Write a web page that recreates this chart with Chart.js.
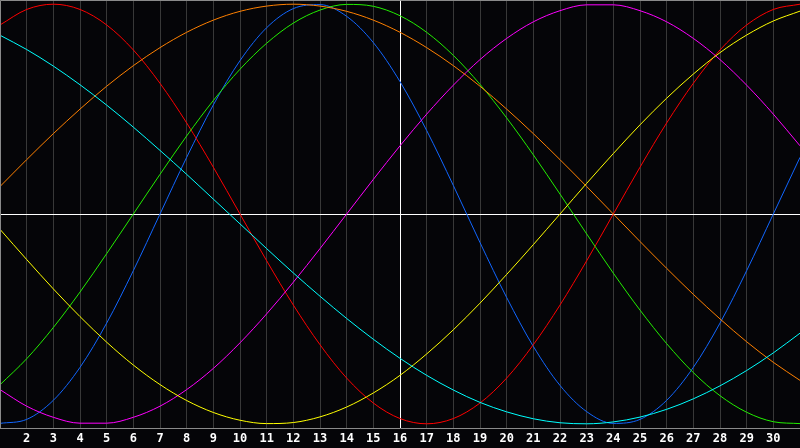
<!DOCTYPE html>
<html>
<head>
<meta charset="utf-8">
<script src="https://cdn.jsdelivr.net/npm/chart.js@4"></script>
<style>
  html, body { margin: 0; padding: 0; background: #050508; }
  #wrap { width: 800px; height: 448px; }
</style>
</head>
<body>
<div id="wrap"><canvas id="bio"></canvas></div>
<script>
// dias del mes
var dias = [];
for (var d = 1; d <= 31; d++) dias.push(d);

// valores (-1 .. 1)
var fisico = [-0.998,-0.979,-0.888,-0.731,-0.520,-0.270,0,0.270,0.520,0.731,0.888,0.979,0.998,0.942,0.817,0.631,0.398,0.136,-0.136,-0.398,-0.631,-0.817,-0.942,-0.998,-0.979,-0.888,-0.731,-0.520,-0.270,0,0.270];
var emocional = [0.901,0.975,1.000,0.975,0.901,0.782,0.623,0.434,0.223,0,-0.223,-0.434,-0.623,-0.782,-0.901,-0.975,-1.000,-0.975,-0.901,-0.782,-0.623,-0.434,-0.223,0,0.223,0.434,0.623,0.782,0.901,0.975,1.000];
var intelectual = [-0.814,-0.690,-0.541,-0.372,-0.189,0,0.189,0.372,0.541,0.690,0.814,0.910,0.972,0.999,0.990,0.945,0.866,0.756,0.618,0.458,0.282,0.095,-0.095,-0.282,-0.458,-0.618,-0.756,-0.866,-0.945,-0.990,-0.999];
var intuitivo = [-0.837,-0.916,-0.969,-0.997,-0.997,-0.969,-0.916,-0.837,-0.736,-0.614,-0.476,-0.325,-0.165,0,0.165,0.325,0.476,0.614,0.736,0.837,0.916,0.969,0.997,0.997,0.969,0.916,0.837,0.736,0.614,0.476,0.325];
var estetico = [-0.073,-0.217,-0.357,-0.489,-0.611,-0.720,-0.813,-0.889,-0.946,-0.983,-0.999,-0.994,-0.967,-0.920,-0.853,-0.769,-0.667,-0.552,-0.425,-0.288,-0.146,0,0.146,0.288,0.425,0.552,0.667,0.769,0.853,0.920,0.967];
var conciencia = [0.131,0.259,0.383,0.500,0.609,0.707,0.793,0.866,0.924,0.966,0.991,1.000,0.991,0.966,0.924,0.866,0.793,0.707,0.609,0.500,0.383,0.259,0.131,0,-0.131,-0.259,-0.383,-0.500,-0.609,-0.707,-0.793];
var espiritual = [0.852,0.784,0.705,0.616,0.519,0.414,0.303,0.189,0.071,-0.047,-0.165,-0.281,-0.392,-0.498,-0.597,-0.688,-0.769,-0.839,-0.898,-0.943,-0.976,-0.995,-1.000,-0.991,-0.968,-0.931,-0.881,-0.819,-0.746,-0.662,-0.568];

var hoy = 16;

function serie(nombre, valores, color) {
    return {
        label: nombre,
        data: valores.map((v, i) => ({x: dias[i], y: v})),
        borderColor: color,
        borderWidth: 1,
        pointRadius: 0,
        cubicInterpolationMode: "monotone",
        fill: false
    };
}

// fondo y marco gris arriba e izquierda
const marco = {
    id: "marco",
    beforeDraw(chart) {
        const c = chart.ctx;
        c.save();
        c.fillStyle = "#050508";
        c.fillRect(0, 0, chart.width, chart.height);
        c.restore();
    },
    afterDraw(chart) {
        const a = chart.chartArea;
        const c = chart.ctx;
        c.save();
        c.strokeStyle = "#8a8a8a";
        c.lineWidth = 1;
        c.beginPath();
        c.moveTo(a.left + 0.5, a.bottom);
        c.lineTo(a.left + 0.5, a.top + 0.5);
        c.lineTo(a.right, a.top + 0.5);
        c.stroke();
        c.restore();
    }
};

const ctx = document.getElementById("bio");
new Chart(ctx, {
    type: "line",
    data: {
        datasets: [
            serie("Espiritual", espiritual, "#00ffff"),
            serie("Conciencia", conciencia, "#ff8000"),
            serie("Estetico", estetico, "#ffff00"),
            serie("Intuitivo", intuitivo, "#ff00ff"),
            serie("Intelectual", intelectual, "#22ee00"),
            serie("Emocional", emocional, "#ff0000"),
            serie("Fisico", fisico, "#1166ff")
        ]
    },
    options: {
        responsive: true,
        maintainAspectRatio: false,
        animation: false,
        devicePixelRatio: 1,
        layout: {padding: 0},
        plugins: {
            legend: {display: false},
            tooltip: {enabled: false}
        },
        scales: {
            x: {
                type: "linear",
                min: 1,
                max: 31,
                afterFit: s => {
                    s.height = 20;
                    s.paddingLeft = 0;
                    s.paddingRight = 0;
                },
                ticks: {
                    stepSize: 1,
                    autoSkip: false,
                    maxRotation: 0,
                    padding: 4,
                    color: "#ffffff",
                    font: {family: "DejaVu Sans Mono", size: 12, weight: "bold"},
                    callback: v => (v > 1 && v < 31) ? String(v) : ""
                },
                grid: {
                    drawTicks: false,
                    lineWidth: 1,
                    color: c => c.tick && c.tick.value === hoy ? "#ffffff" : "#383838"
                },
                border: {color: "#8a8a8a"}
            },
            y: {
                min: -1.02,
                max: 1.02,
                afterFit: s => {
                    s.width = 0;
                    s.paddingTop = 0;
                    s.paddingBottom = 0;
                },
                ticks: {display: false, stepSize: 1},
                grid: {
                    drawTicks: false,
                    color: c => c.tick && c.tick.value === 0 ? "#ffffff" : "transparent"
                },
                border: {display: false}
            }
        }
    },
    plugins: [marco]
});
</script>
</body>
</html>
